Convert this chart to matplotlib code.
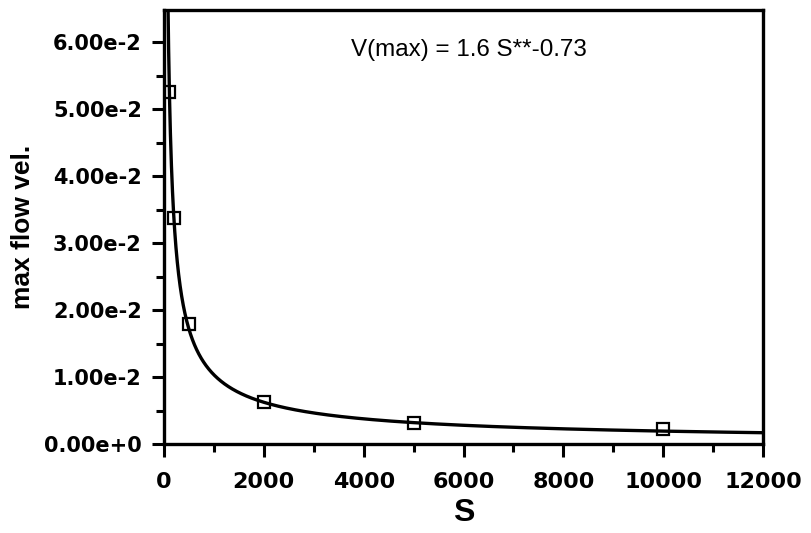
import numpy as np
import matplotlib
matplotlib.use("Agg")
import matplotlib.pyplot as plt
from matplotlib.ticker import MultipleLocator, FixedLocator

# Measured maximum flow velocity against S
s_values = [100, 200, 500, 2000, 5000, 10000]
v_max = [0.0525, 0.0337, 0.0179, 0.0063, 0.0031, 0.0022]

# Power-law fit V(max) = a * S**b
fit_a = 1.6
fit_b = -0.73

x_ticks = [0, 2000, 4000, 6000, 8000, 10000, 12000]
y_ticks = [0.0, 0.01, 0.02, 0.03, 0.04, 0.05, 0.06]
y_tick_labels = ["0.00e+0", "1.00e-2", "2.00e-2", "3.00e-2", "4.00e-2", "5.00e-2", "6.00e-2"]

plt.rcParams["font.family"] = ["Liberation Sans", "DejaVu Sans"]

fig = plt.figure(figsize=(8.12, 5.33), dpi=100)
ax = fig.add_axes([0.202, 0.167, 0.7377, 0.814])

s_fit = np.linspace(20, 12000, 4000)
ax.plot(s_fit, fit_a * s_fit ** fit_b, color="black", lw=2.4, zorder=2)
ax.plot(s_values, v_max, linestyle="none", marker="s", markersize=8.5,
        markerfacecolor="none", markeredgecolor="black", markeredgewidth=1.6, zorder=3)

ax.set_xlim(0, 12000)
ax.set_ylim(0, 0.0648)
ax.xaxis.set_major_locator(FixedLocator(x_ticks))
ax.xaxis.set_minor_locator(MultipleLocator(1000))
ax.yaxis.set_major_locator(FixedLocator(y_ticks))
ax.yaxis.set_minor_locator(MultipleLocator(0.005))
ax.set_xticklabels([str(t) for t in x_ticks])
ax.set_yticklabels(y_tick_labels)

for side in ax.spines.values():
    side.set_linewidth(2.4)
ax.tick_params(which="major", direction="out", length=9, width=2.2)
ax.tick_params(which="minor", direction="out", length=5.5, width=2.2)
ax.tick_params(axis="x", which="major", pad=11)
ax.tick_params(axis="y", which="major", pad=7)
for lbl in ax.get_xticklabels():
    lbl.set_fontfamily("DejaVu Sans")
    lbl.set_fontweight("bold")
    lbl.set_fontsize(16)
for lbl in ax.get_yticklabels():
    lbl.set_fontfamily("DejaVu Sans")
    lbl.set_fontweight("bold")
    lbl.set_fontsize(15)

ax.set_xlabel("S", fontsize=23, fontweight="bold", va="center")
ax.xaxis.set_label_coords(0.5, -0.159)
ax.set_ylabel("max flow vel.", fontsize=19, fontweight="bold", va="center")
ax.yaxis.set_label_coords(-0.2354, 0.5)

ax.text(3750, 0.0588, "V(max) = 1.6 S**-0.73", fontsize=17.4, va="center", ha="left")

fig.savefig("out.png", dpi=100)
